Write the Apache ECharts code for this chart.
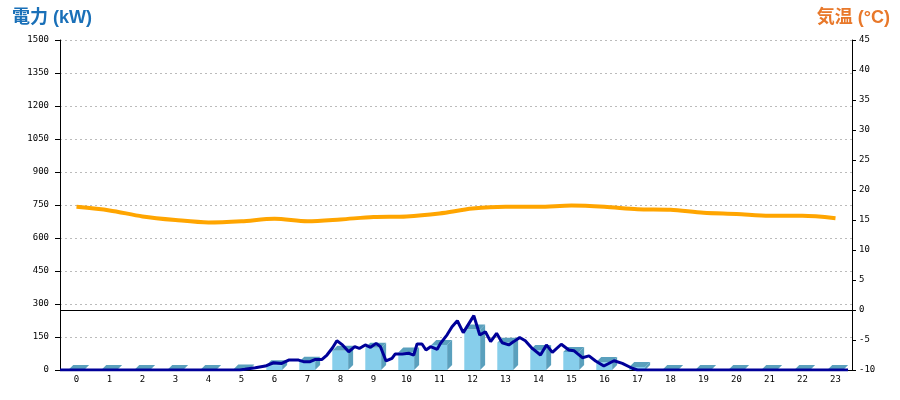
<!DOCTYPE html>
<html>
<head>
<meta charset="utf-8">
<script src="https://cdn.jsdelivr.net/npm/echarts@6/dist/echarts.min.js"></script>
<style>html,body{margin:0;padding:0;background:#fff}#c{width:900px;height:400px}</style>
</head>
<body>
<div id="c"></div>
<script>
const hours = ['0','1','2','3','4','5','6','7','8','9','10','11','12','13','14','15','16','17','18','19','20','21','22','23'];
const barValues = [0,0,0,0,0,2,22,38,88,101,80,114,184,124,91,82,36,14,0,0,0,0,0,0];
const tempValues = [17.2,16.6,15.6,15.0,14.6,14.8,15.2,14.8,15.1,15.5,15.6,16.1,16.9,17.2,17.2,17.4,17.2,16.8,16.7,16.2,16.0,15.7,15.7,15.3];
const powerTimes = [0,5.45,5.6,5.92,6.22,6.47,6.72,6.93,7.23,7.38,7.58,7.74,7.94,8.09,8.26,8.39,8.56,8.75,8.93,9.07,9.25,9.41,9.58,9.71,9.88,10.06,10.16,10.37,10.57,10.72,10.82,10.97,11.09,11.23,11.43,11.53,11.73,11.88,12.04,12.22,12.54,12.72,12.89,13.05,13.23,13.4,13.6,13.75,13.93,14.1,14.31,14.56,14.74,14.92,15.19,15.42,15.57,15.83,16.03,16.23,16.48,16.79,17.04,17.34,17.5,23.88];
const powerValues = [0,0,3,10,18,33,30,45,45,38,38,48,48,68,101,133,114,83,106,98,114,103,121,106,41,53,73,73,76,68,118,118,91,106,94,121,160,197,224,170,247,159,174,129,167,124,114,129,148,133,98,68,114,80,117,91,88,56,64,41,18,42,30,8,0,0];

const chart = echarts.init(document.getElementById('c'));
const labelFont = {fontFamily: 'DejaVu Sans Mono', fontSize: 9, color: '#000'};

function renderBar(params, api) {
  const idx = api.value(0);
  const val = api.value(1);
  const base = api.coord([idx, 0]);
  const top = api.coord([idx, val]);
  const bw = api.size([1, 0])[0] * 0.48;
  const d = 5;
  const xl = base[0] - bw / 2 - 0.3;
  const xr = xl + bw;
  const yb = base[1];
  const yt = top[1];
  return {
    type: 'group',
    children: [
      {type: 'polygon', shape: {points: [[xr, yt], [xr + d, yt - d], [xr + d, yb - d], [xr, yb]]}, style: {fill: '#5aa0bd'}},
      {type: 'polygon', shape: {points: [[xl, yt], [xl + d, yt - d], [xr + d, yt - d], [xr, yt]]}, style: {fill: '#5aa0bd'}},
      {type: 'rect', shape: {x: xl, y: yt, width: bw, height: yb - yt}, style: {fill: '#87ceeb'}}
    ]
  };
}

chart.setOption({
  animation: false,
  backgroundColor: '#fff',
  title: [
    {text: '電力 (kW)', left: 7, top: 4, textStyle: {fontFamily: 'Liberation Sans, Noto Sans CJK JP', fontSize: 18, fontWeight: 'bold', color: '#1a70b8'}},
    {text: '気温 (°C)', right: 5, top: 4, textStyle: {fontFamily: 'Liberation Sans, Noto Sans CJK JP', fontSize: 18, fontWeight: 'bold', color: '#e8782a'}}
  ],
  grid: {left: 60, right: 48, top: 40, bottom: 30},
  xAxis: [
    {type: 'category', data: hours, boundaryGap: true,
     axisLine: {lineStyle: {color: '#000', width: 1}}, axisTick: {show: false},
     axisLabel: Object.assign({margin: 5, interval: 0}, labelFont), splitLine: {show: false}},
    {type: 'value', min: 0, max: 24, show: false}
  ],
  yAxis: [
    {type: 'value', min: 0, max: 1500, interval: 150, position: 'left',
     axisLine: {show: true, lineStyle: {color: '#000'}}, axisTick: {show: true, length: 5, lineStyle: {color: '#000'}},
     axisLabel: Object.assign({margin: 11, formatter: v => String(v)}, labelFont),
     splitLine: {show: true, lineStyle: {color: '#bbb', type: [2, 3]}}},
    {type: 'value', min: -10, max: 45, interval: 5, position: 'right',
     axisLine: {show: true, lineStyle: {color: '#000'}}, axisTick: {show: true, length: 4, lineStyle: {color: '#000'}},
     axisLabel: Object.assign({margin: 7, formatter: v => String(v)}, labelFont), splitLine: {show: false}}
  ],
  series: [
    {type: 'custom', xAxisIndex: 0, yAxisIndex: 0, renderItem: renderBar,
     encode: {x: 0, y: 1}, data: barValues.map((v, i) => [i, v]), z: 2, clip: false},
    {type: 'line', xAxisIndex: 0, yAxisIndex: 1, data: tempValues, smooth: 0.3, symbol: 'none',
     lineStyle: {color: '#ffa500', width: 4}, z: 3,
     markLine: {silent: true, symbol: 'none', label: {show: false},
       lineStyle: {color: '#000', type: 'solid', width: 1}, data: [{yAxis: 0}]}},
    {type: 'line', xAxisIndex: 1, yAxisIndex: 0, data: powerTimes.map((t, i) => [t, powerValues[i]]),
     symbol: 'none', lineStyle: {color: '#000099', width: 3}, z: 4}
  ]
});
</script>
</body>
</html>
